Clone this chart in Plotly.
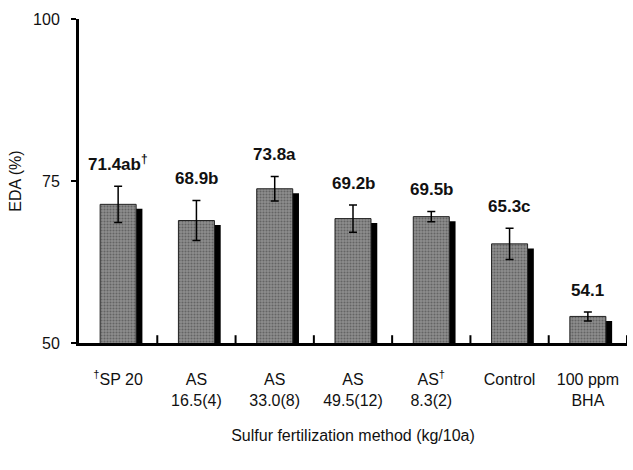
import plotly.graph_objects as go

categories = ["<sup>†</sup>SP 20", "AS<br>16.5(4)", "AS<br>33.0(8)", "AS<br>49.5(12)",
              "AS<sup>†</sup><br>8.3(2)", "Control", "100 ppm<br>BHA"]
values = [71.4, 68.9, 73.8, 69.2, 69.5, 65.3, 54.1]
errors = [2.8, 3.1, 1.9, 2.1, 0.8, 2.4, 0.7]
labels = ["71.4ab<sup>†</sup>", "68.9b", "73.8a", "69.2b", "69.5b", "65.3c", "54.1"]

xs = list(range(len(values)))
bounds = [x + 0.5 for x in xs]
shadow_dx = 0.08
shadow_dy = 0.7

fig = go.Figure()
fig.add_trace(go.Bar(
    x=[x + shadow_dx for x in xs], y=[v - shadow_dy for v in values], width=0.46,
    marker=dict(color="#000000", line=dict(width=0)), hoverinfo="skip", showlegend=False))
fig.add_trace(go.Bar(
    x=xs, y=values, width=0.46,
    marker=dict(color="#7a7a7a", line=dict(color="#222222", width=1),
                pattern=dict(shape=".", size=3, solidity=0.4, fgcolor="#3a3a3a", bgcolor="#8e8e8e")),
    error_y=dict(type="data", array=errors, visible=True, color="#000000", thickness=1.5, width=4),
    showlegend=False))
# boundary tick marks between categories: zero-height markers with a one-sided error bar
fig.add_trace(go.Scatter(
    x=bounds, y=[50] * len(bounds), mode="markers", marker=dict(size=1, color="rgba(0,0,0,0)"),
    error_y=dict(type="constant", symmetric=False, value=1.2, valueminus=0, color="black",
                 thickness=2, width=0),
    hoverinfo="skip", showlegend=False, cliponaxis=False))

for x, v, e, t in zip(xs, values, errors, labels):
    fig.add_annotation(x=x, y=v + e, text="<b>" + t + "</b>", showarrow=False, yanchor="bottom",
                       yshift=10, font=dict(family="Liberation Sans", size=17, color="#111111"))

fig.update_layout(
    width=633, height=470, barmode="overlay",
    margin=dict(l=79, r=6, t=19, b=127),
    plot_bgcolor="white", paper_bgcolor="white",
    font=dict(family="Liberation Sans", size=16, color="#111111"),
    xaxis=dict(range=[-0.5, 6.5], tickvals=xs, ticktext=categories, ticks="",
               showline=True, linecolor="black", linewidth=3, showgrid=False, zeroline=False,
               ticklabelstandoff=20,
               title=dict(text="Sulfur fertilization method (kg/10a)", standoff=22,
                          font=dict(size=16))),
    yaxis=dict(range=[50, 100], tickvals=[50, 75, 100], ticks="outside", ticklen=5, tickwidth=2,
               tickcolor="black", showline=True, linecolor="black", linewidth=3,
               showgrid=False, zeroline=False, ticklabelstandoff=8,
               title=dict(text="EDA (%)", standoff=8, font=dict(size=16))),
)

fig.write_html("out.html", config={"displayModeBar": False},
               post_script="document.body.style.margin='0';")
